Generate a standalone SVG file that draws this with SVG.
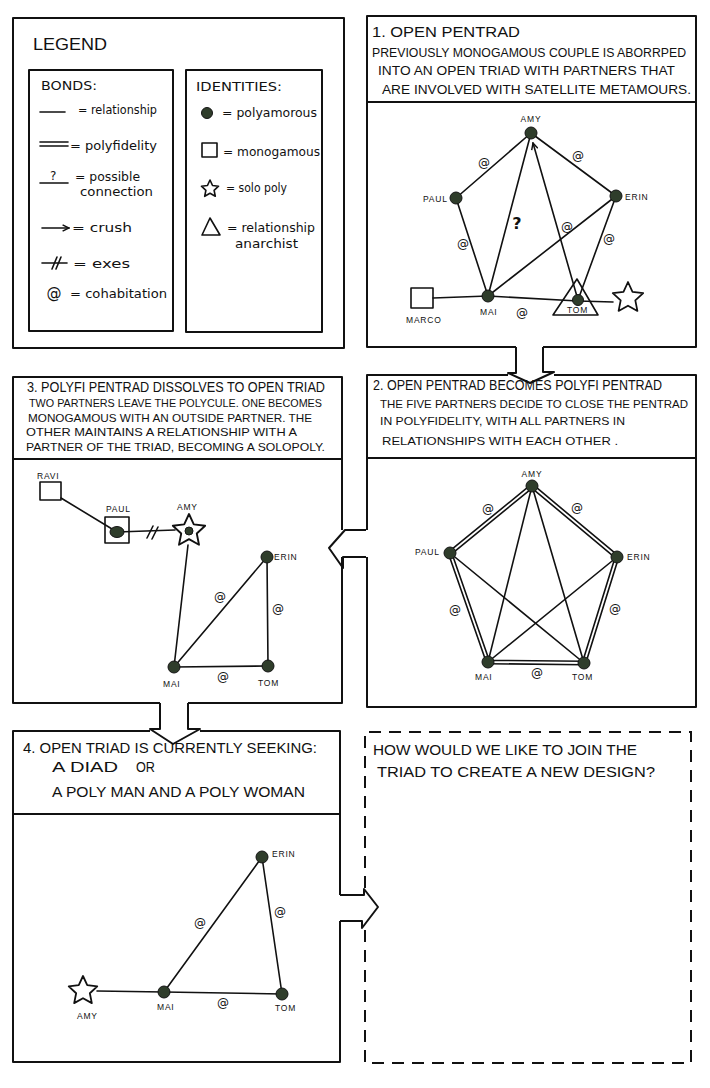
<svg xmlns="http://www.w3.org/2000/svg" width="710" height="1088" viewBox="0 0 710 1088">
<defs>
<style>
.frame{fill:none;stroke:#111;stroke-width:2;stroke-linejoin:round}
.dash{fill:none;stroke:#111;stroke-width:2;stroke-dasharray:12 8}
.edge{fill:none;stroke:#111;stroke-width:1.6;stroke-linecap:round}
.dbl{fill:none;stroke:#111;stroke-width:5;stroke-linecap:round}
.dblin{fill:none;stroke:#fff;stroke-width:1.8;stroke-linecap:round}
.dot{fill:#2f3d2b;stroke:#151515;stroke-width:1}
.shape{fill:none;stroke:#111;stroke-width:1.6;stroke-linejoin:round}
.hd{font-family:"Liberation Sans",Arial,sans-serif;font-size:14px;fill:#111}
.sub{font-family:"Liberation Sans",Arial,sans-serif;font-size:11px;fill:#111}
.lg{font-family:"DejaVu Sans",sans-serif;font-size:12px;fill:#111}
.nm{font-family:"Liberation Sans",Arial,sans-serif;font-size:8.5px;fill:#111;letter-spacing:0.8px}
.at{font-family:"DejaVu Sans",sans-serif;font-size:12px;fill:#111;text-anchor:middle}
</style>
<path id="star" d="M0,-10 L2.82,-3.88 L9.51,-3.09 L4.57,1.48 L5.88,8.09 L0,4.8 L-5.88,8.09 L-4.57,1.48 L-9.51,-3.09 L-2.82,-3.88 Z" fill="none" stroke="#111" stroke-linejoin="round"/>
<marker id="crush" viewBox="0 0 10 10" refX="9" refY="5" markerWidth="8" markerHeight="8" markerUnits="userSpaceOnUse" orient="auto">
<path d="M1,1 L9,5 L1,9" fill="none" stroke="#111" stroke-width="1.8"/>
</marker>
</defs>
<rect width="710" height="1088" fill="#fff"/>

<!-- Legend -->
<g id="legend">
<rect class="frame" x="13" y="18" width="331" height="330"/>
<text class="hd" x="33" y="50" style="font-size:16px" textLength="74" lengthAdjust="spacingAndGlyphs">LEGEND</text>
<g id="bonds">
<rect class="frame" x="29" y="70" width="144" height="261"/>
<text class="lg" x="41" y="90" textLength="56" lengthAdjust="spacingAndGlyphs">BONDS:</text>
<line class="edge" x1="40" y1="112" x2="65" y2="112"/>
<text class="lg" x="78" y="114" textLength="79" lengthAdjust="spacingAndGlyphs">= relationship</text>
<line class="edge" x1="40" y1="142" x2="68" y2="142"/>
<line class="edge" x1="40" y1="146" x2="68" y2="146"/>
<text class="lg" x="70" y="150" textLength="87" lengthAdjust="spacingAndGlyphs">= polyfidelity</text>
<text class="lg" x="50" y="180">?</text>
<line class="edge" x1="40" y1="183" x2="68" y2="183"/>
<text class="lg" x="75" y="181" textLength="65" lengthAdjust="spacingAndGlyphs">= possible</text>
<text class="lg" x="80" y="196" textLength="73" lengthAdjust="spacingAndGlyphs">connection</text>
<line class="edge" x1="42" y1="228" x2="69" y2="228" marker-end="url(#crush)"/>
<text class="lg" x="72" y="232" textLength="60" lengthAdjust="spacingAndGlyphs">= crush</text>
<line class="edge" x1="42" y1="263" x2="67" y2="263"/>
<line class="edge" x1="52" y1="269" x2="57" y2="257"/>
<line class="edge" x1="56" y1="269" x2="61" y2="257"/>
<text class="lg" x="73" y="268" textLength="57" lengthAdjust="spacingAndGlyphs">= exes</text>
<text class="at" x="54" y="298" style="font-size:15px">@</text>
<text class="lg" x="70" y="298" textLength="97" lengthAdjust="spacingAndGlyphs">= cohabitation</text>
</g>
<g id="identities">
<rect class="frame" x="186" y="70" width="136" height="262"/>
<text class="lg" x="196" y="91" textLength="86" lengthAdjust="spacingAndGlyphs">IDENTITIES:</text>
<circle class="dot" cx="207" cy="113" r="5.5"/>
<text class="lg" x="222" y="117" textLength="95" lengthAdjust="spacingAndGlyphs">= polyamorous</text>
<rect class="shape" x="202" y="143" width="15" height="14"/>
<text class="lg" x="223" y="156" textLength="97" lengthAdjust="spacingAndGlyphs">= monogamous</text>
<use href="#star" transform="translate(210,189) scale(0.9)" stroke-width="1.8"/>
<text class="lg" x="226" y="192" textLength="61" lengthAdjust="spacingAndGlyphs">= solo poly</text>
<polygon class="shape" points="202,235 220,235 210,218"/>
<text class="lg" x="227" y="232" textLength="88" lengthAdjust="spacingAndGlyphs">= relationship</text>
<text class="lg" x="235" y="248" textLength="63" lengthAdjust="spacingAndGlyphs">anarchist</text>
</g>
</g>

<!-- Frames -->
<g id="frames">
<path class="frame" d="M516,347 H367 V16 H696 V347 H543"/>
<path class="frame" d="M367,102 H696"/>
<path class="frame" d="M508,375 H367 V530 M367,557 V707 H696 V375 H554"/>
<path class="frame" d="M367,458 H696"/>
<path class="frame" d="M160,703 H13 V377 H342 V530 M342,557 V703 H188"/>
<path class="frame" d="M13,459 H342"/>
<path class="frame" d="M150,731 H13 V1062 H340 V921 M340,895 V731 H200"/>
<path class="frame" d="M13,814 H340"/>
<path class="dash" d="M365,888 V732 H691 V1063 H365 V928"/>
</g>

<g id="connectors">
<!-- panel arrows -->
<path class="frame" d="M516,347 V373 H508 L530,383 L554,372 H543 V347"/>
<path class="frame" d="M366,530 H345 L329,548 L343,568 V557 H366"/>
<path class="frame" d="M160,703 V729 H150 L173,744 L200,729 H188 V703"/>
<path class="frame" d="M340,895 H364 V889 L378,907 L362,928 V921 H340"/>

<!-- panel 1 -->
<line class="edge" x1="531" y1="133" x2="456" y2="198"/>
<line class="edge" x1="531" y1="133" x2="616" y2="196"/>
<line class="edge" x1="456" y1="198" x2="488" y2="296"/>
<line class="edge" x1="531" y1="133" x2="488" y2="296"/>
<line class="edge" x1="578" y1="300" x2="533" y2="143" marker-end="url(#crush)"/>
<line class="edge" x1="616" y1="196" x2="488" y2="296"/>
<line class="edge" x1="616" y1="196" x2="578" y2="300"/>
<line class="edge" x1="433" y1="298" x2="488" y2="296"/>
<line class="edge" x1="488" y1="296" x2="578" y2="301"/>
<line class="edge" x1="578" y1="301" x2="613" y2="302"/>
<text class="at" x="484" y="167">@</text>
<text class="at" x="578" y="160">@</text>
<text class="at" x="463" y="248">@</text>
<text class="at" x="517" y="229" style="font-size:16px;font-weight:bold">?</text>
<text class="at" x="567" y="231">@</text>
<text class="at" x="609" y="243">@</text>
<text class="at" x="522" y="317">@</text>

<!-- panel 2 -->
<g>
<path class="dbl" d="M532,486 L450,553 L488,662 L584,663 L617,557 Z" stroke-linejoin="round"/>
<path class="dblin" d="M532,486 L450,553 L488,662 L584,663 L617,557 Z" stroke-linejoin="round"/>
</g>
<line class="edge" x1="532" y1="486" x2="488" y2="662"/>
<line class="edge" x1="532" y1="486" x2="584" y2="663"/>
<line class="edge" x1="450" y1="553" x2="584" y2="663"/>
<line class="edge" x1="617" y1="557" x2="488" y2="662"/>
<text class="at" x="488" y="513">@</text>
<text class="at" x="577" y="512">@</text>
<text class="at" x="455" y="614">@</text>
<text class="at" x="615" y="613">@</text>
<text class="at" x="537" y="677">@</text>

<!-- panel 3 -->
<line class="edge" x1="61" y1="498" x2="117" y2="532"/>
<line class="edge" x1="117" y1="532" x2="175" y2="530"/>
<line class="edge" x1="147" y1="538" x2="153" y2="526"/>
<line class="edge" x1="152" y1="539" x2="158" y2="527"/>
<line class="edge" x1="188" y1="545" x2="174" y2="667"/>
<line class="edge" x1="267" y1="557" x2="174" y2="667"/>
<line class="edge" x1="267" y1="557" x2="268" y2="666"/>
<line class="edge" x1="174" y1="667" x2="268" y2="666"/>
<text class="at" x="220" y="601">@</text>
<text class="at" x="278" y="613">@</text>
<text class="at" x="223" y="681">@</text>

<!-- panel 4 -->
<line class="edge" x1="97" y1="991" x2="164" y2="992"/>
<line class="edge" x1="164" y1="992" x2="262" y2="857"/>
<line class="edge" x1="262" y1="857" x2="282" y2="994"/>
<line class="edge" x1="164" y1="992" x2="282" y2="994"/>
<text class="at" x="200" y="927">@</text>
<text class="at" x="280" y="916">@</text>
<text class="at" x="223" y="1007">@</text>
</g>

<!-- Panel 1 -->
<g id="panel1">
<text class="hd" x="372" y="37" textLength="148" lengthAdjust="spacingAndGlyphs">1. OPEN PENTRAD</text>
<text class="hd" x="372" y="57" style="font-size:12px" textLength="314" lengthAdjust="spacingAndGlyphs">PREVIOUSLY MONOGAMOUS COUPLE IS ABORRPED</text>
<text class="hd" x="378" y="75" style="font-size:13px" textLength="297" lengthAdjust="spacingAndGlyphs">INTO AN OPEN TRIAD WITH PARTNERS THAT</text>
<text class="hd" x="382" y="94" style="font-size:13px" textLength="309" lengthAdjust="spacingAndGlyphs">ARE INVOLVED WITH SATELLITE METAMOURS.</text>
<g id="p1-amy"><circle class="dot" cx="531" cy="133" r="6"/><text class="nm" x="531" y="122" text-anchor="middle">AMY</text></g>
<g id="p1-paul"><circle class="dot" cx="456" cy="198" r="6"/><text class="nm" x="423" y="202">PAUL</text></g>
<g id="p1-erin"><circle class="dot" cx="616" cy="196" r="6"/><text class="nm" x="625" y="200">ERIN</text></g>
<g id="p1-mai"><circle class="dot" cx="488" cy="296" r="6"/><text class="nm" x="480" y="315">MAI</text></g>
<g id="p1-tom"><polygon class="shape" points="553,315 598,315 577,279"/><circle class="dot" cx="578" cy="300" r="5.5"/><text class="nm" x="567" y="313">TOM</text></g>
<g id="p1-marco"><rect class="shape" x="411" y="288" width="22" height="20"/><text class="nm" x="406" y="323">MARCO</text></g>
<g id="p1-solo"><use href="#star" transform="translate(628,298) scale(1.6)" stroke-width="1.1"/></g>
</g>

<!-- Panel 2 -->
<g id="panel2">
<text class="hd" x="373" y="390" textLength="289" lengthAdjust="spacingAndGlyphs">2. OPEN PENTRAD BECOMES POLYFI PENTRAD</text>
<text class="sub" x="380" y="408" textLength="308" lengthAdjust="spacingAndGlyphs">THE FIVE PARTNERS DECIDE TO CLOSE THE PENTRAD</text>
<text class="sub" x="380" y="425" textLength="245" lengthAdjust="spacingAndGlyphs">IN POLYFIDELITY, WITH ALL PARTNERS IN</text>
<text class="sub" x="382" y="445" textLength="236" lengthAdjust="spacingAndGlyphs">RELATIONSHIPS WITH EACH OTHER .</text>
<g id="p2-amy"><circle class="dot" cx="532" cy="486" r="6"/><text class="nm" x="532" y="477" text-anchor="middle">AMY</text></g>
<g id="p2-paul"><circle class="dot" cx="450" cy="553" r="6"/><text class="nm" x="415" y="555">PAUL</text></g>
<g id="p2-erin"><circle class="dot" cx="617" cy="557" r="6"/><text class="nm" x="627" y="560">ERIN</text></g>
<g id="p2-mai"><circle class="dot" cx="488" cy="662" r="6"/><text class="nm" x="475" y="680">MAI</text></g>
<g id="p2-tom"><circle class="dot" cx="584" cy="663" r="6"/><text class="nm" x="572" y="680">TOM</text></g>
</g>

<!-- Panel 3 -->
<g id="panel3">
<text class="hd" x="27" y="392" style="font-size:14.5px" textLength="298" lengthAdjust="spacingAndGlyphs">3. POLYFI PENTRAD DISSOLVES TO OPEN TRIAD</text>
<text class="sub" x="29" y="407" textLength="293" lengthAdjust="spacingAndGlyphs">TWO PARTNERS LEAVE THE POLYCULE. ONE BECOMES</text>
<text class="sub" x="28" y="422" textLength="284" lengthAdjust="spacingAndGlyphs">MONOGAMOUS WITH AN OUTSIDE PARTNER. THE</text>
<text class="sub" x="26" y="436" textLength="271" lengthAdjust="spacingAndGlyphs">OTHER MAINTAINS A RELATIONSHIP WITH A</text>
<text class="sub" x="26" y="451" textLength="299" lengthAdjust="spacingAndGlyphs">PARTNER OF THE TRIAD, BECOMING A SOLOPOLY.</text>
<g id="p3-ravi"><rect class="shape" x="40" y="482" width="21" height="18"/><text class="nm" x="37" y="479">RAVI</text></g>
<g id="p3-paul"><rect class="shape" x="105" y="517" width="24" height="26"/><ellipse class="dot" cx="117" cy="532" rx="7" ry="5.5"/><text class="nm" x="106" y="512">PAUL</text></g>
<g id="p3-amy"><use href="#star" transform="translate(189,531) scale(1.7)" stroke-width="1.1"/><circle class="dot" cx="189" cy="531" r="4"/><text class="nm" x="177" y="510">AMY</text></g>
<g id="p3-erin"><circle class="dot" cx="267" cy="557" r="6"/><text class="nm" x="274" y="560">ERIN</text></g>
<g id="p3-mai"><circle class="dot" cx="174" cy="667" r="6"/><text class="nm" x="163" y="687">MAI</text></g>
<g id="p3-tom"><circle class="dot" cx="268" cy="666" r="6"/><text class="nm" x="258" y="686">TOM</text></g>
</g>

<!-- Panel 4 -->
<g id="panel4">
<text class="hd" x="23" y="753" style="font-size:15px" textLength="294" lengthAdjust="spacingAndGlyphs">4. OPEN TRIAD IS CURRENTLY SEEKING:</text>
<text class="hd" x="52" y="772" style="font-size:15px" textLength="66" lengthAdjust="spacingAndGlyphs">A DIAD</text>
<text class="hd" x="136" y="772" textLength="19" lengthAdjust="spacingAndGlyphs">OR</text>
<text class="hd" x="52" y="797" style="font-size:15px" textLength="253" lengthAdjust="spacingAndGlyphs">A POLY MAN  AND  A POLY WOMAN</text>
<g id="p4-erin"><circle class="dot" cx="262" cy="857" r="6"/><text class="nm" x="272" y="857">ERIN</text></g>
<g id="p4-mai"><circle class="dot" cx="164" cy="992" r="6"/><text class="nm" x="157" y="1010">MAI</text></g>
<g id="p4-tom"><circle class="dot" cx="282" cy="994" r="6"/><text class="nm" x="275" y="1011">TOM</text></g>
<g id="p4-amy"><use href="#star" transform="translate(83,991) scale(1.5)" stroke-width="1.2"/><text class="nm" x="77" y="1019">AMY</text></g>
</g>

<!-- Panel 5 -->
<g id="panel5">
<text class="hd" x="373" y="755" textLength="264" lengthAdjust="spacingAndGlyphs">HOW WOULD WE LIKE TO JOIN THE</text>
<text class="hd" x="377" y="777" textLength="278" lengthAdjust="spacingAndGlyphs">TRIAD TO CREATE A NEW DESIGN?</text>
</g>
</svg>
